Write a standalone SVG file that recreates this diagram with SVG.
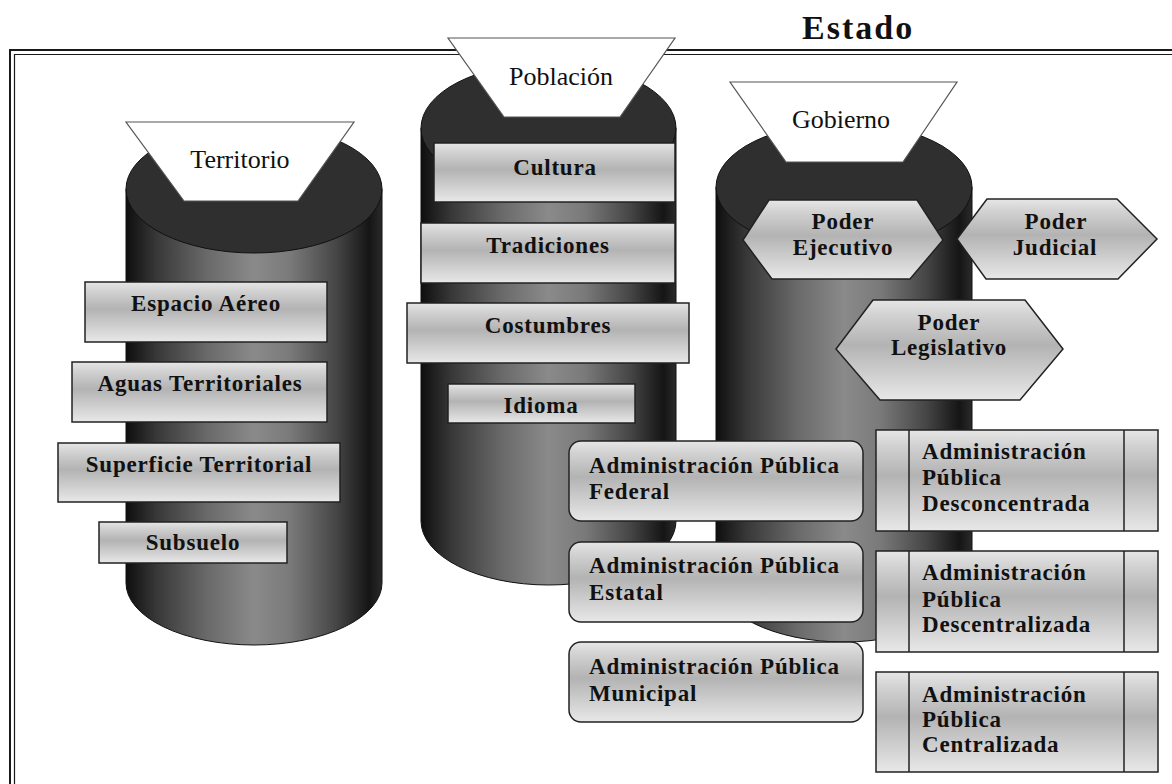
<svg xmlns="http://www.w3.org/2000/svg" width="1172" height="784" viewBox="0 0 1172 784">
  <defs>
    <!-- shaded cylinder body -->
    <linearGradient id="cylBody" x1="0" y1="0" x2="1" y2="0">
      <stop offset="0" stop-color="#0e0e0e"/>
      <stop offset="0.12" stop-color="#383838"/>
      <stop offset="0.32" stop-color="#6a6a6a"/>
      <stop offset="0.5" stop-color="#8a8a8a"/>
      <stop offset="0.64" stop-color="#7a7a7a"/>
      <stop offset="0.82" stop-color="#464646"/>
      <stop offset="0.95" stop-color="#151515"/>
      <stop offset="1" stop-color="#2a2a2a"/>
    </linearGradient>
    <!-- metallic band fill for boxes -->
    <linearGradient id="band" x1="0" y1="0" x2="0" y2="1">
      <stop offset="0" stop-color="#e6e6e6"/>
      <stop offset="0.15" stop-color="#d2d2d2"/>
      <stop offset="0.45" stop-color="#b3b3b3"/>
      <stop offset="0.7" stop-color="#cbcbcb"/>
      <stop offset="1" stop-color="#e8e8e8"/>
    </linearGradient>
  </defs>
  <style>
    .frame { fill: none; stroke: #1a1a1a; }
    .cyl { fill: url(#cylBody); stroke: #111; stroke-width: 1; }
    .cap { fill: #2f2f2f; stroke: #111; stroke-width: 1; }
    .trap { fill: #fff; stroke: #555; stroke-width: 1.2; }
    .box { fill: url(#band); stroke: #222; stroke-width: 1.5; }
    .div { stroke: #222; stroke-width: 1.5; }
    .lbl { font-family: "Liberation Serif", "Times New Roman", serif; font-size: 26px; fill: #111; text-anchor: middle; }
    .t { font-family: "Liberation Serif", "Times New Roman", serif; font-size: 23px; font-weight: bold; fill: #111; letter-spacing: 0.8px; }
    .c { text-anchor: middle; }
    .title { font-family: "Liberation Serif", "Times New Roman", serif; font-size: 34px; font-weight: bold; fill: #111; letter-spacing: 2px; }
  </style>

  <rect width="1172" height="784" fill="#fff"/>

  <!-- double border -->
  <g id="frame">
    <path class="frame" d="M10,784 V50 H1172" stroke-width="2"/>
    <path class="frame" d="M14.5,784 V54.5 H1172" stroke-width="1.2"/>
  </g>
  <text id="title" class="title" x="802" y="39">Estado</text>

  <!-- pillar: Territorio -->
  <g id="territorio">
    <path class="cyl" d="M126,189 V583 A128,62 0 0 0 382,583 V189 Z"/>
    <ellipse class="cap" cx="254" cy="189" rx="128" ry="64"/>
    <polygon class="trap" points="126,122 354,122 298,201 184,201"/>
    <text class="lbl" x="240" y="168">Territorio</text>
  </g>

  <!-- pillar: Población -->
  <g id="poblacion">
    <path class="cyl" d="M421,128 V521 A127.5,64 0 0 0 676,521 V128 Z"/>
    <ellipse class="cap" cx="548.5" cy="128" rx="127.5" ry="65"/>
  </g>

  <!-- pillar: Gobierno -->
  <g id="gobierno">
    <path class="cyl" d="M716,187 V578 A128,64 0 0 0 972,578 V187 Z"/>
    <ellipse class="cap" cx="844" cy="187" rx="128" ry="64"/>
    <polygon class="trap" points="730,82 957,82 903,162 786,162"/>
    <text class="lbl" x="841" y="128">Gobierno</text>
  </g>

  <g id="poblacion-label">
    <polygon class="trap" points="448,38 675,38 620,117 504,117"/>
    <text class="lbl" x="561" y="85">Población</text>
  </g>

  <!-- Territorio components -->
  <g id="espacio-aereo">
    <rect class="box" x="85" y="282" width="242" height="60"/>
    <text class="t c" x="206" y="311">Espacio Aéreo</text>
  </g>
  <g id="aguas-territoriales">
    <rect class="box" x="72" y="362" width="255" height="60"/>
    <text class="t c" x="200" y="391">Aguas Territoriales</text>
  </g>
  <g id="superficie-territorial">
    <rect class="box" x="58" y="443" width="282" height="59"/>
    <text class="t c" x="199" y="472">Superficie Territorial</text>
  </g>
  <g id="subsuelo">
    <rect class="box" x="99" y="522" width="188" height="41"/>
    <text class="t c" x="193" y="550">Subsuelo</text>
  </g>

  <!-- Población components -->
  <g id="cultura">
    <rect class="box" x="434" y="143" width="241" height="59"/>
    <text class="t c" x="555" y="175">Cultura</text>
  </g>
  <g id="tradiciones">
    <rect class="box" x="421" y="223" width="254" height="60"/>
    <text class="t c" x="548" y="253">Tradiciones</text>
  </g>
  <g id="costumbres">
    <rect class="box" x="407" y="303" width="282" height="60"/>
    <text class="t c" x="548" y="333">Costumbres</text>
  </g>
  <g id="idioma">
    <rect class="box" x="448" y="384" width="187" height="39"/>
    <text class="t c" x="541" y="413">Idioma</text>
  </g>

  <!-- powers -->
  <g id="poder-ejecutivo">
    <polygon class="box" points="743,240 769,200 917,200 943,240 910,279 772,279"/>
    <text class="t c" x="843" y="229">Poder</text>
    <text class="t c" x="843" y="255">Ejecutivo</text>
  </g>
  <g id="poder-judicial">
    <polygon class="box" points="957,239 987,199 1117,199 1157,239 1118,279 986,279"/>
    <text class="t c" x="1056" y="229">Poder</text>
    <text class="t c" x="1055" y="255">Judicial</text>
  </g>
  <g id="poder-legislativo">
    <polygon class="box" points="836,349 873,300 1025,300 1063,349 1020,400 880,400"/>
    <text class="t c" x="949" y="330">Poder</text>
    <text class="t c" x="949" y="355">Legislativo</text>
  </g>

  <!-- levels of public administration -->
  <g id="ap-federal">
    <rect class="box" x="569" y="441" width="294" height="80" rx="12"/>
    <text class="t" x="589" y="473">Administración Pública</text>
    <text class="t" x="589" y="499">Federal</text>
  </g>
  <g id="ap-estatal">
    <rect class="box" x="569" y="542" width="294" height="80" rx="12"/>
    <text class="t" x="589" y="573">Administración Pública</text>
    <text class="t" x="589" y="600">Estatal</text>
  </g>
  <g id="ap-municipal">
    <rect class="box" x="569" y="642" width="294" height="80" rx="12"/>
    <text class="t" x="589" y="674">Administración Pública</text>
    <text class="t" x="589" y="701">Municipal</text>
  </g>

  <!-- forms of public administration -->
  <g id="ap-desconcentrada">
    <rect class="box" x="876" y="430" width="282" height="101"/>
    <line class="div" x1="909" y1="430" x2="909" y2="531"/>
    <line class="div" x1="1124" y1="430" x2="1124" y2="531"/>
    <text class="t" x="922" y="459">Administración</text>
    <text class="t" x="922" y="485">Pública</text>
    <text class="t" x="922" y="511">Desconcentrada</text>
  </g>
  <g id="ap-descentralizada">
    <rect class="box" x="876" y="551" width="282" height="101"/>
    <line class="div" x1="909" y1="551" x2="909" y2="652"/>
    <line class="div" x1="1124" y1="551" x2="1124" y2="652"/>
    <text class="t" x="922" y="580">Administración</text>
    <text class="t" x="922" y="607">Pública</text>
    <text class="t" x="922" y="632">Descentralizada</text>
  </g>
  <g id="ap-centralizada">
    <rect class="box" x="876" y="672" width="282" height="100"/>
    <line class="div" x1="909" y1="672" x2="909" y2="772"/>
    <line class="div" x1="1124" y1="672" x2="1124" y2="772"/>
    <text class="t" x="922" y="702">Administración</text>
    <text class="t" x="922" y="727">Pública</text>
    <text class="t" x="922" y="752">Centralizada</text>
  </g>

  <g id="connectors"/>
</svg>
